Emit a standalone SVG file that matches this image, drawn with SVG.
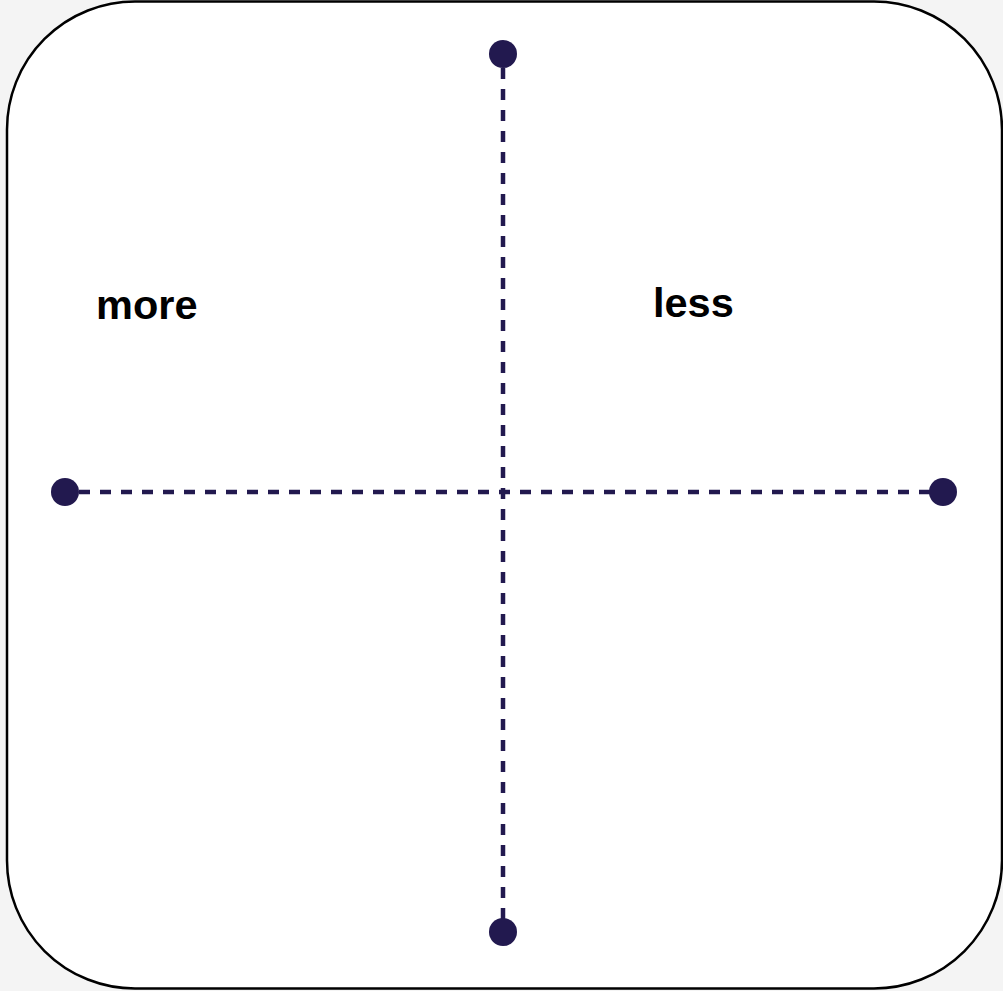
<svg xmlns="http://www.w3.org/2000/svg" width="1003" height="991" viewBox="0 0 1003 991">
<style>
.frame{fill:#ffffff;stroke:#000000;stroke-width:2.5}
.axis{stroke:#22194f;stroke-width:4.5;stroke-dasharray:11 10;fill:none}
.dot{fill:#22194f}
.lbl{font-family:"Liberation Sans",Arial,sans-serif;font-weight:bold;font-size:41.5px;fill:#000000}
</style>
<rect x="0" y="0" width="1003" height="991" fill="#f4f4f4"/>
<g id="frame"><rect class="frame" x="7" y="1.5" width="995" height="987" rx="128" ry="128"/></g>
<g id="connectors">
<line class="axis" x1="503" y1="68" x2="503" y2="920"/>
<line class="axis" x1="79" y1="492" x2="930" y2="492"/>
</g>
<g id="node-top"><circle class="dot" cx="503" cy="54" r="14"/></g>
<g id="node-bottom"><circle class="dot" cx="503" cy="932" r="14"/></g>
<g id="node-left"><circle class="dot" cx="65" cy="492" r="14"/></g>
<g id="node-right"><circle class="dot" cx="943" cy="492" r="14"/></g>
<g id="label-more"><text class="lbl" x="96" y="319">more</text></g>
<g id="label-less"><text class="lbl" x="653" y="317">less</text></g>
</svg>
